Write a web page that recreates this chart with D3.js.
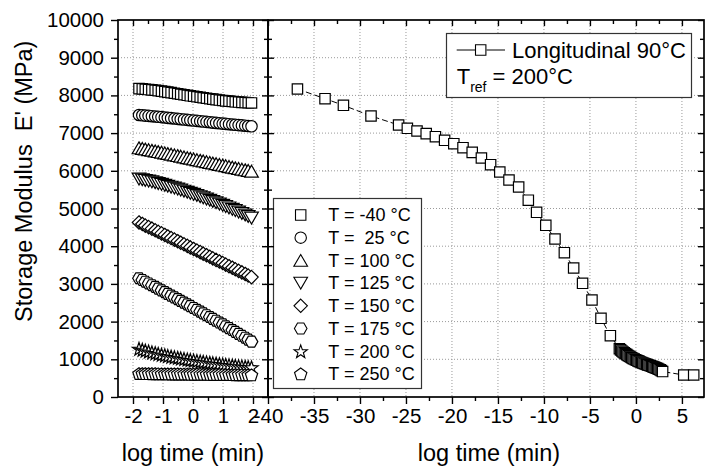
<!DOCTYPE html>
<html><head><meta charset="utf-8">
<script src="https://cdn.jsdelivr.net/npm/d3@7"></script>
<style>
body{margin:0;background:#fff;}
svg{display:block;font-family:"Liberation Sans",Arial,sans-serif;}
</style></head><body>
<svg id="c" width="705" height="470"></svg>
<script>
// ---------- DATA ----------
const logT = [-1.80,-1.69,-1.59,-1.48,-1.37,-1.26,-1.16,-1.05,-0.94,-0.84,-0.73,-0.62,-0.51,-0.41,-0.30,-0.19,-0.09,0.02,0.13,0.24,0.34,0.45,0.56,0.66,0.77,0.88,0.99,1.09,1.20,1.31,1.41,1.52,1.63,1.74,1.84,1.95];
const seriesNames = ["T = -40 °C","T =  25 °C","T = 100 °C","T = 125 °C","T = 150 °C","T = 175 °C","T = 200 °C","T = 250 °C"];
const seriesSymbols = ["square","circle","triangle","triangleDown","diamond","hexagon","star","pentagon"];
const E_m40 = [8180,8172,8163,8155,8146,8136,8126,8113,8100,8087,8073,8059,8045,8031,8017,8003,7990,7977,7964,7951,7938,7925,7912,7900,7888,7877,7866,7856,7847,7838,7830,7823,7816,7810,7805,7800];
const E_25 = [7480,7472,7464,7456,7448,7440,7432,7423,7414,7405,7396,7387,7378,7369,7360,7351,7342,7333,7324,7315,7306,7297,7288,7279,7270,7261,7252,7244,7236,7228,7220,7212,7204,7196,7188,7180];
const E_100 = [6610,6594,6578,6561,6544,6527,6510,6493,6476,6458,6440,6422,6404,6386,6368,6350,6332,6314,6296,6278,6260,6242,6224,6206,6188,6170,6152,6134,6116,6098,6080,6062,6044,6026,6008,5990];
const E_125 = [5780,5763,5745,5726,5706,5685,5663,5640,5616,5591,5566,5540,5514,5487,5460,5432,5404,5375,5345,5314,5283,5251,5219,5186,5153,5119,5085,5050,5015,4979,4943,4906,4869,4828,4788,4745];
const E_150 = [4630,4589,4547,4506,4465,4423,4382,4340,4299,4258,4216,4175,4133,4092,4050,4009,3968,3926,3885,3843,3802,3760,3719,3678,3636,3595,3553,3512,3470,3429,3388,3346,3305,3263,3222,3180];
const E_175 = [3150,3104,3058,3012,2966,2920,2874,2828,2782,2735,2689,2643,2596,2550,2503,2456,2409,2362,2314,2266,2218,2170,2122,2073,2024,1975,1926,1876,1826,1776,1726,1675,1624,1573,1522,1470];
const E_200 = [1280,1255,1231,1208,1186,1165,1145,1126,1108,1090,1073,1057,1041,1026,1011,997,983,970,957,944,932,920,908,897,886,875,865,855,845,836,827,818,810,802,795,788];
const E_250 = [622,621,620,619,618,617,616,615,614,613,612,611,610,609,608,607,606,605,604,603,602,601,600,599,598,597,596,595,594,593,592,591,590,589,588,587];
const seriesE = [E_m40,E_25,E_100,E_125,E_150,E_175,E_200,E_250];

// master curve (Longitudinal 90°C, Tref = 200°C)
const masterLogT = [-36.8,-33.8,-31.8,-28.8,-25.8,-24.85,-23.8,-22.8,-21.8,-20.8,-19.8,-18.8,-17.8,-16.8,-15.8,-14.8,-13.8,-12.75,-11.7,-10.8,-9.8,-8.8,-7.78,-6.77,-5.8,-4.78,-3.8,-2.78,
  -1.80,-1.67,-1.53,-1.40,-1.26,-1.13,-0.99,-0.86,-0.72,-0.59,-0.46,-0.32,-0.19,-0.05,0.08,0.22,0.35,0.49,0.62,0.75,0.89,1.02,1.16,1.29,1.43,1.56,1.70,1.83,1.96,2.10,2.23,2.37,2.50,2.64,2.77,2.90,
  5.2,6.28];
const masterE = [8170,7913,7737,7454,7215,7127,7056,6985,6905,6809,6719,6613,6490,6340,6162,5968,5756,5570,5220,4899,4554,4191,3828,3422,3016,2573,2088,1626,
  1280,1250,1222,1195,1170,1146,1123,1101,1080,1060,1041,1023,1006,990,974,959,944,930,916,903,890,877,865,853,841,829,817,805,793,780,766,752,737,720,700,675,
  584,584];

const yTicks = [0,1000,2000,3000,4000,5000,6000,7000,8000,9000,10000];
const xTicksLeft = [-2,-1,0,1,2];
const xTicksRight = [-40,-35,-30,-25,-20,-15,-10,-5,0,5];
const yLabel = "Storage Modulus  E' (MPa)";
const xLabel = "log time (min)";
const legendMain = "Longitudinal 90°C";

// ---------- LAYOUT ----------
const svg = d3.select("#c");
const yTop = 20, yBot = 397;
const L = {x0:118, x1:268}, R = {x0:268, x1:704};
const y = d3.scaleLinear().domain([0,10000]).range([yBot, yTop]);
const xL = d3.scaleLinear().domain([-2.5,2.5]).range([L.x0, L.x1]);
const xR = d3.scaleLinear().domain([-40,7.4]).range([R.x0, R.x1]);
const plain = d => String(d);

function shapePath(type){
  const poly = (n, Rr, a0, dy) => d3.range(n).map(i => [Rr*Math.cos(a0+2*Math.PI*i/n), Rr*Math.sin(a0+2*Math.PI*i/n)+(dy||0)]);
  let pts;
  switch(type){
    case "square": { const s=5.2; pts=[[-s,-s],[s,-s],[s,s],[-s,s]]; break; }
    case "circle": return d3.symbol(d3.symbolCircle, Math.PI*5.7*5.7)();
    case "triangle": { const r=7.9; pts=poly(3,r,-Math.PI/2,r/4); break; }
    case "triangleDown": { const r=7.9; pts=poly(3,r,Math.PI/2,-r/4); break; }
    case "diamond": { const r=6.7; pts=[[0,-r],[r,0],[0,r],[-r,0]]; break; }
    case "hexagon": pts=poly(6,6.3,0,0); break;
    case "pentagon": pts=poly(5,6.5,-Math.PI/2,0.6); break;
    case "star": pts=d3.range(10).map(i=>{const r=i%2?2.8:7.0; const a=-Math.PI/2+Math.PI*i/5; return [r*Math.cos(a), r*Math.sin(a)+0.7];}); break;
  }
  const p = d3.path();
  p.moveTo(pts[0][0],pts[0][1]); pts.slice(1).forEach(q=>p.lineTo(q[0],q[1])); p.closePath();
  return p.toString();
}

// ---------- GRID ----------
const grid = svg.append("g").attr("stroke","#9a9a9a").attr("stroke-width",1).attr("stroke-dasharray","1,2");
yTicks.filter(v=>v>0&&v<10000).forEach(v=>{
  grid.append("line").attr("x1",L.x0).attr("x2",L.x1).attr("y1",y(v)).attr("y2",y(v));
  grid.append("line").attr("x1",R.x0).attr("x2",R.x1).attr("y1",y(v)).attr("y2",y(v));
});
xTicksLeft.forEach(v=>grid.append("line").attr("x1",xL(v)).attr("x2",xL(v)).attr("y1",yTop).attr("y2",yBot));
xTicksRight.filter(v=>v>-40).forEach(v=>grid.append("line").attr("x1",xR(v)).attr("x2",xR(v)).attr("y1",yTop).attr("y2",yBot));

// ---------- LEFT PANEL DATA ----------
seriesE.forEach((arr,i)=>{
  const d = shapePath(seriesSymbols[i]);
  svg.append("g").selectAll("path").data(logT.map((t,j)=>[t,arr[j]])).join("path")
    .attr("d",d).attr("transform",p=>`translate(${xL(p[0])},${y(p[1])})`)
    .attr("fill","#fff").attr("stroke","#000").attr("stroke-width",1.2);
});

// ---------- RIGHT PANEL MASTER CURVE ----------
const master = masterLogT.map((t,j)=>[t,masterE[j]]);
svg.append("path").datum(master)
  .attr("d", d3.line().x(p=>xR(p[0])).y(p=>y(p[1])))
  .attr("fill","none").attr("stroke","#000").attr("stroke-width",1).attr("stroke-dasharray","6,3");
svg.append("g").selectAll("path").data(master).join("path")
  .attr("d",shapePath("square")).attr("transform",p=>`translate(${xR(p[0])},${y(p[1])})`)
  .attr("fill","#fff").attr("stroke","#000").attr("stroke-width",1.2);

// ---------- LEGENDS ----------
svg.append("rect").attr("x",273.5).attr("y",198.5).attr("width",148).attr("height",190)
  .attr("fill","#fff").attr("stroke","#333").attr("stroke-width",1.2);
seriesNames.forEach((n,i)=>{
  const cy = 215 + i*22.7;
  svg.append("path").attr("d",shapePath(seriesSymbols[i])).attr("transform",`translate(300.7,${cy})`)
    .attr("fill","#fff").attr("stroke","#000").attr("stroke-width",1.1);
  svg.append("text").attr("x",328.3).attr("y",cy).attr("dy","0.35em").attr("font-size",18)
    .attr("xml:space","preserve").style("white-space","pre").text(n);
});

svg.append("rect").attr("x",446.5).attr("y",33.5).attr("width",245).attr("height",64)
  .attr("fill","#fff").attr("stroke","#333").attr("stroke-width",1.2);
svg.append("line").attr("x1",456.7).attr("x2",475).attr("y1",50).attr("y2",50).attr("stroke","#000").attr("stroke-width",1);
svg.append("line").attr("x1",486.5).attr("x2",505).attr("y1",50).attr("y2",50).attr("stroke","#000").attr("stroke-width",1);
svg.append("path").attr("d",shapePath("square")).attr("transform","translate(480.7,50)")
  .attr("fill","#fff").attr("stroke","#000").attr("stroke-width",1.1);
svg.append("text").attr("x",512).attr("y",57.5).attr("font-size",22).text(legendMain);
const tr = svg.append("text").attr("x",456.7).attr("y",84).attr("font-size",22);
tr.append("tspan").text("T");
tr.append("tspan").attr("dy",7.5).attr("font-size",14).text("ref");
tr.append("tspan").attr("dy",-7.5).text(" = 200°C");

// ---------- AXES ----------
function styleAxis(g){
  g.select(".domain").remove();
  g.selectAll("line").attr("stroke","#000").attr("stroke-width",1.4);
  g.selectAll("text").attr("font-size",20.5).attr("fill","#000").attr("font-family","Liberation Sans, Arial, sans-serif");
}
const yMinor = d3.range(500,10000,1000);
const xLMinor = [-1.5,-0.5,0.5,1.5];
const xRMinor = d3.range(-37.5,7.5,5);

// left panel
svg.append("g").attr("transform",`translate(${L.x0},0)`).call(d3.axisLeft(y).tickValues(yTicks).tickSize(7).tickPadding(7).tickFormat(plain)).call(styleAxis);
svg.append("g").attr("transform",`translate(${L.x0},0)`).call(d3.axisLeft(y).tickValues(yMinor).tickSize(4).tickFormat("")).call(styleAxis);
svg.append("g").attr("transform",`translate(${L.x1},0)`).call(d3.axisRight(y).tickValues(yTicks).tickSize(-6).tickFormat("")).call(styleAxis);
svg.append("g").attr("transform",`translate(${L.x1},0)`).call(d3.axisRight(y).tickValues(yMinor).tickSize(-4).tickFormat("")).call(styleAxis);
svg.append("g").attr("transform",`translate(0,${yBot})`).call(d3.axisBottom(xL).tickValues(xTicksLeft).tickSize(7).tickPadding(4).tickFormat(plain)).call(styleAxis);
svg.append("g").attr("transform",`translate(0,${yBot})`).call(d3.axisBottom(xL).tickValues(xLMinor).tickSize(4).tickFormat("")).call(styleAxis);
svg.append("g").attr("transform",`translate(0,${yTop})`).call(d3.axisTop(xL).tickValues(xTicksLeft).tickSize(-6).tickFormat("")).call(styleAxis);
svg.append("g").attr("transform",`translate(0,${yTop})`).call(d3.axisTop(xL).tickValues(xLMinor).tickSize(-4).tickFormat("")).call(styleAxis);

// right panel
svg.append("g").attr("transform",`translate(${R.x0},0)`).call(d3.axisLeft(y).tickValues(yTicks).tickSize(-6).tickFormat("")).call(styleAxis);
svg.append("g").attr("transform",`translate(${R.x0},0)`).call(d3.axisLeft(y).tickValues(yMinor).tickSize(-4).tickFormat("")).call(styleAxis);
svg.append("g").attr("transform",`translate(${R.x1},0)`).call(d3.axisRight(y).tickValues(yTicks).tickSize(-6).tickFormat("")).call(styleAxis);
svg.append("g").attr("transform",`translate(${R.x1},0)`).call(d3.axisRight(y).tickValues(yMinor).tickSize(-4).tickFormat("")).call(styleAxis);
svg.append("g").attr("transform",`translate(0,${yBot})`).call(d3.axisBottom(xR).tickValues(xTicksRight).tickSize(7).tickPadding(4).tickFormat(plain)).call(styleAxis);
svg.append("g").attr("transform",`translate(0,${yBot})`).call(d3.axisBottom(xR).tickValues(xRMinor).tickSize(4).tickFormat("")).call(styleAxis);
svg.append("g").attr("transform",`translate(0,${yTop})`).call(d3.axisTop(xR).tickValues(xTicksRight).tickSize(-6).tickFormat("")).call(styleAxis);
svg.append("g").attr("transform",`translate(0,${yTop})`).call(d3.axisTop(xR).tickValues(xRMinor).tickSize(-4).tickFormat("")).call(styleAxis);

// frames
svg.append("rect").attr("x",L.x0).attr("y",yTop).attr("width",L.x1-L.x0).attr("height",yBot-yTop)
  .attr("fill","none").attr("stroke","#000").attr("stroke-width",1.7);
svg.append("rect").attr("x",R.x0).attr("y",yTop).attr("width",R.x1-R.x0).attr("height",yBot-yTop)
  .attr("fill","none").attr("stroke","#000").attr("stroke-width",1.7);

// titles
svg.append("text").attr("transform","translate(32,322) rotate(-90)").attr("font-size",23.5)
  .attr("xml:space","preserve").style("white-space","pre").text(yLabel);
svg.append("text").attr("x",193).attr("y",461).attr("text-anchor","middle").attr("font-size",23.5).text(xLabel);
svg.append("text").attr("x",489).attr("y",461).attr("text-anchor","middle").attr("font-size",23.5).text(xLabel);
</script>
</body></html>
